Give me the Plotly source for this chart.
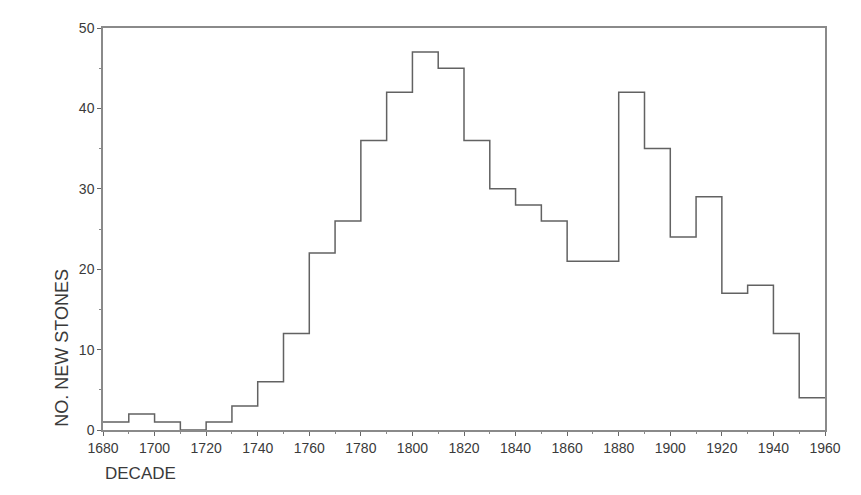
import plotly.graph_objects as go

# Decade start years and number of new stones per decade
decades = [1680, 1690, 1700, 1710, 1720, 1730, 1740, 1750, 1760, 1770,
           1780, 1790, 1800, 1810, 1820, 1830, 1840, 1850, 1860, 1870,
           1880, 1890, 1900, 1910, 1920, 1930, 1940, 1950]
new_stones = [1, 2, 1, 0, 1, 3, 6, 12, 22, 26,
              36, 42, 47, 45, 36, 30, 28, 26, 21, 21,
              42, 35, 24, 29, 17, 18, 12, 4]
end_year = 1960

x_tick_vals = list(range(1680, 1961, 20))
x_tick_text = [str(v) for v in x_tick_vals]
y_tick_vals = [0, 10, 20, 30, 40, 50]

step_x = decades + [end_year]
step_y = new_stones + [new_stones[-1]]

fig = go.Figure()
fig.add_trace(go.Scatter(
    x=step_x, y=step_y, mode="lines", line_shape="hv",
    line=dict(color="#626262", width=1.5), showlegend=False,
    hoverinfo="skip"))

font_tick = dict(family="Liberation Sans, Arial, sans-serif", size=14, color="#3a3a3a")

fig.update_xaxes(
    range=[1680, 1960], tickvals=x_tick_vals, ticktext=x_tick_text,
    ticks="outside", ticklen=4, tickcolor="#666", tickfont=font_tick,
    showline=True, linecolor="#8a8a8a", linewidth=1.5, mirror=True,
    showgrid=False, zeroline=False,
    minor=dict(dtick=10, ticks="outside", ticklen=2, tickcolor="#888"))
fig.update_yaxes(
    range=[0, 50], tickvals=y_tick_vals,
    ticks="outside", ticklen=4, tickcolor="#666", tickfont=font_tick,
    showline=True, linecolor="#8a8a8a", linewidth=1.5, mirror=True,
    showgrid=False, zeroline=False,
    minor=dict(dtick=5, ticks="outside", ticklen=2, tickcolor="#888"))

fig.add_annotation(
    text="NO. NEW STONES", xref="paper", yref="paper",
    x=-0.058, y=0.205, xanchor="center", yanchor="middle",
    textangle=-90, showarrow=False,
    font=dict(family="Liberation Sans, Arial, sans-serif", size=18, color="#3a3a3a"))
fig.add_annotation(
    text="DECADE", xref="paper", yref="paper",
    x=0.0, y=-0.138, xanchor="left", yanchor="bottom",
    showarrow=False,
    font=dict(family="Liberation Sans, Arial, sans-serif", size=17, color="#3a3a3a"))

# page body has an 8px default margin on every side; size the figure to fit the window
fig.update_layout(
    width=845, height=479,
    margin=dict(l=95, r=16, t=15, b=57),
    paper_bgcolor="white", plot_bgcolor="white")

fig.write_html("out.html")
